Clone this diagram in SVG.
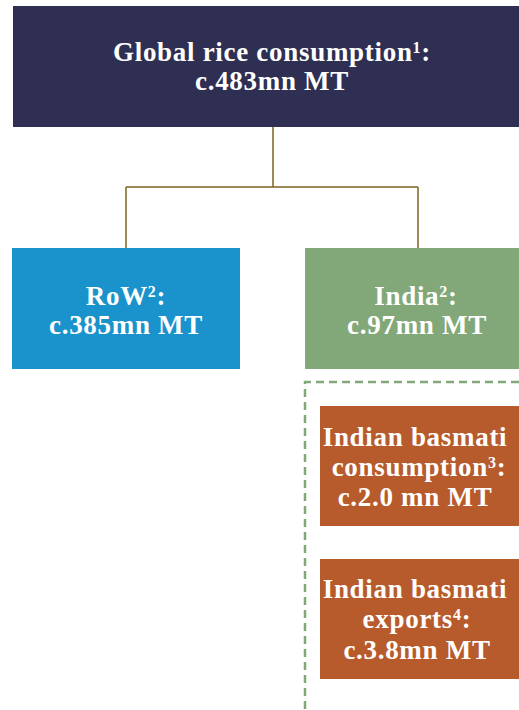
<svg xmlns="http://www.w3.org/2000/svg" width="519" height="710" viewBox="0 0 519 710">
<style>
.t{font-family:"Liberation Serif","DejaVu Serif",serif;font-weight:bold;fill:#fff;text-anchor:middle;font-size:27px;letter-spacing:0.7px}
.s{font-size:16px;baseline-shift:super}
.c{fill:none;stroke:#7F6420;stroke-width:1.5}
.d{fill:none;stroke:#82A87A;stroke-width:2.5;stroke-dasharray:8 5}
</style>
<rect width="519" height="710" fill="#fff"/>
<g id="connectors">
<path class="c" d="M273 127V187M126 187H418M126 187V248M418 187V248"/>
<path class="d" d="M519 382H305V710"/>
</g>
<g id="global">
<rect x="13" y="6" width="506" height="121" fill="#2E2F52"/>
<text class="t" x="272" y="61">Global rice consumption<tspan class="s">1</tspan>:</text>
<text class="t" x="272" y="90">c.483mn MT</text>
</g>
<g id="row">
<rect x="12" y="248" width="228" height="121" fill="#1A92CB"/>
<text class="t" x="126" y="305">RoW<tspan class="s">2</tspan>:</text>
<text class="t" x="126" y="334">c.385mn MT</text>
</g>
<g id="india">
<rect x="305" y="248" width="214" height="121" fill="#82A87A"/>
<text class="t" x="416" y="305">India<tspan class="s">2</tspan>:</text>
<text class="t" x="417" y="334">c.97mn MT</text>
</g>
<g id="basmati-consumption">
<rect x="320" y="406" width="199" height="120" fill="#B85B2C"/>
<text class="t" x="415" y="446">Indian basmati</text>
<text class="t" x="419" y="476">consumption<tspan class="s">3</tspan>:</text>
<text class="t" x="415" y="506">c.2.0 mn MT</text>
</g>
<g id="basmati-exports">
<rect x="320" y="559" width="199" height="120" fill="#B85B2C"/>
<text class="t" x="415" y="598">Indian basmati</text>
<text class="t" x="417" y="628">exports<tspan class="s">4</tspan>:</text>
<text class="t" x="417" y="659">c.3.8mn MT</text>
</g>
</svg>
